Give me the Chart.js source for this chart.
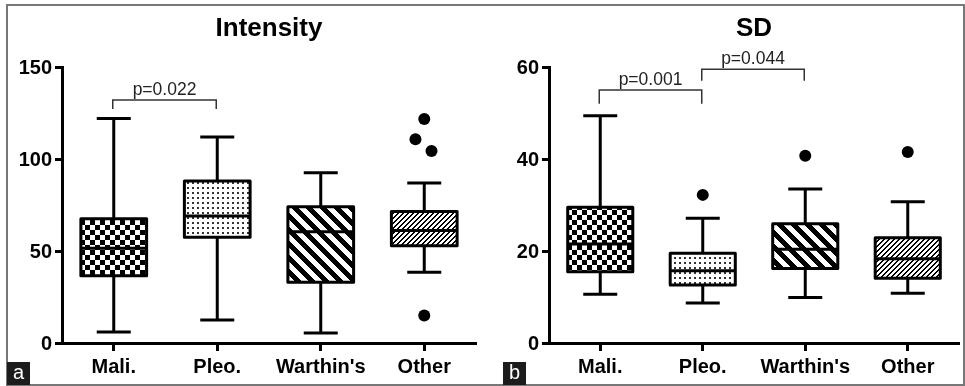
<!DOCTYPE html>
<html><head><meta charset="utf-8">
<script src="https://cdn.jsdelivr.net/npm/chart.js@4.4.0/dist/chart.umd.min.js"></script>
<style>
html,body{margin:0;padding:0;background:#fff;}
#wrap{position:relative;width:965px;height:386px;overflow:hidden;background:#fff;}
#frame{position:absolute;left:6px;top:4px;width:959px;height:382px;box-sizing:border-box;border:2px solid #777;}
canvas{position:absolute;top:0;}
.tag{position:absolute;top:362px;width:23px;height:23px;background:#1c1c1c;color:#fff;font:20px "Liberation Sans",Arial,sans-serif;line-height:21px;text-align:center;}
</style></head>
<body><div id="wrap"><div id="frame"></div>
<canvas id="c1" width="482" height="386" style="left:0px"></canvas>
<canvas id="c2" width="483" height="386" style="left:482px"></canvas>
<div class="tag" style="left:7px">a</div><div class="tag" style="left:503px">b</div>
</div>
<script>
// ---------- data ----------
const categories = ["Mali.", "Pleo.", "Warthin's", "Other"];

// Panel a: Intensity
const intMin = [6, 12.5, 5.5, 38.5];
const intQ1  = [36.5, 57.5, 33, 52.8];
const intMed = [51.5, 69, 60.5, 61.2];
const intQ3  = [67.5, 88, 74, 71.5];
const intMax = [122, 112, 92.5, 87];
const intOutX = [3, 2.915, 3.07, 3];
const intOutY = [121.7, 110.7, 104.3, 15];
const intTicks = [0, 50, 100, 150];
const intBrFrom = [0], intBrTo = [1], intBrTop = [132], intBrLeg = [127.2], intBrText = ["p=0.022"];

// Panel b: SD
const sdMin = [10.6, 8.7, 9.9, 10.8];
const sdQ1  = [15.5, 12.6, 16.2, 14.1];
const sdMed = [21.5, 15.7, 20.4, 18.3];
const sdQ3  = [29.5, 19.5, 25.9, 22.9];
const sdMax = [49.4, 27.1, 33.5, 30.7];
const sdOutX = [1, 2, 3];
const sdOutY = [32.2, 40.7, 41.5];
const sdTicks = [0, 20, 40, 60];
const sdBrFrom = [0, 1], sdBrTo = [1, 2], sdBrTop = [55, 59.5], sdBrLeg = [52, 57], sdBrText = ["p=0.001", "p=0.044"];

// ---------- styling helpers ----------
const FONT = '"Liberation Sans", Arial, Helvetica, sans-serif';
Chart.defaults.font.family = FONT;
Chart.defaults.color = '#000';

function makePatterns(ctx){
  function cv(w,h){const c=document.createElement('canvas');c.width=w;c.height=h;return c;}
  const c1=cv(10,10), g1=c1.getContext('2d');
  g1.fillStyle='#fff';g1.fillRect(0,0,10,10);g1.fillStyle='#000';g1.fillRect(0,0,5,5);g1.fillRect(5,5,5,5);
  const c2=cv(5,5), g2=c2.getContext('2d');
  g2.fillStyle='#fff';g2.fillRect(0,0,5,5);g2.fillStyle='#333';g2.fillRect(2,2,2,2);
  function diag(P,w,back){
    const c=cv(P,P), g=c.getContext('2d'); const img=g.createImageData(P,P);
    for(let y=0;y<P;y++)for(let x=0;x<P;x++){
      const v = back ? (((x-y)%P)+P)%P : (x+y)%P;
      const k=(y*P+x)*4, col=(v<w)?0:255;
      img.data[k]=col;img.data[k+1]=col;img.data[k+2]=col;img.data[k+3]=255;
    }
    g.putImageData(img,0,0); return c;
  }
  const c3=diag(14,7,true);
  const c4=diag(5,2,false);
  return [c1,c2,c3,c4].map(c=>ctx.createPattern(c,'repeat'));
}

function boxPlugin(st){
  return {
    id:'boxdraw',
    afterDatasetsDraw(chart){
      const ctx=chart.ctx, xs=chart.scales.x, ys=chart.scales.y;
      const meta=chart.getDatasetMeta(0);
      ctx.save();
      ctx.strokeStyle='#000'; ctx.lineWidth=3; ctx.lineJoin='round'; ctx.lineCap='butt';
      const ln=(a,b,c,d)=>{ctx.beginPath();ctx.moveTo(a,b);ctx.lineTo(c,d);ctx.stroke();};
      meta.data.forEach((bar,i)=>{
        const p=bar.getProps(['x','width'],true);
        const cx=p.x, hw=p.width/2, cap=17;
        const yq1=ys.getPixelForValue(st.q1[i]), yq3=ys.getPixelForValue(st.q3[i]);
        const ymed=ys.getPixelForValue(st.med[i]), ymin=ys.getPixelForValue(st.min[i]), ymax=ys.getPixelForValue(st.max[i]);
        ln(cx,yq3,cx,ymax); ln(cx-cap,ymax,cx+cap,ymax);
        ln(cx,yq1,cx,ymin); ln(cx-cap,ymin,cx+cap,ymin);
        ln(cx-hw,ymed,cx+hw,ymed);
        ctx.strokeRect(cx-hw,yq3,p.width,yq1-yq3);
      });
      ctx.lineWidth=1.5; ctx.strokeStyle='#333'; ctx.fillStyle='#222'; ctx.lineJoin='miter';
      ctx.font='17.5px '+FONT; ctx.textAlign='center'; ctx.textBaseline='alphabetic';
      st.brFrom.forEach((f,i)=>{
        const x1=xs.getPixelForValue(f)-1, x2=xs.getPixelForValue(st.brTo[i])-1;
        const yt=ys.getPixelForValue(st.brTop[i]), yb=ys.getPixelForValue(st.brLeg[i]);
        ctx.beginPath();ctx.moveTo(x1,yb);ctx.lineTo(x1,yt);ctx.lineTo(x2,yt);ctx.lineTo(x2,yb);ctx.stroke();
        ctx.fillText(st.brText[i],(x1+x2)/2,yt-5.5);
      });
      ctx.restore();
    }
  };
}

function build(id, title, st, ticks, yAxisW, padRight){
  const el=document.getElementById(id), ctx=el.getContext('2d');
  const pats=makePatterns(ctx);
  return new Chart(ctx,{
    type:'bar',
    data:{
      labels:categories,
      datasets:[
        {data:st.q1.map((v,i)=>[v,st.q3[i]]), backgroundColor:pats, borderWidth:0, grouped:false,
         barPercentage:0.635, categoryPercentage:1, xAxisID:'x', yAxisID:'y'},
        {type:'scatter', data:st.outX.map((x,i)=>({x:x,y:st.outY[i]})), xAxisID:'xo', yAxisID:'y',
         pointRadius:6, pointBackgroundColor:'#000', pointBorderWidth:0, pointHoverRadius:6}
      ]
    },
    options:{
      responsive:false, animation:false, devicePixelRatio:1,
      layout:{padding:{left:0,right:padRight,top:0,bottom:0}},
      plugins:{
        legend:{display:false}, tooltip:{enabled:false},
        title:{display:true,text:title,color:'#000',fullSize:false,
          font:{size:26,weight:'bold',lineHeight:1,family:FONT},padding:{top:16,bottom:25}}
      },
      scales:{
        x:{type:'category', offset:true,
          grid:{offset:false,drawOnChartArea:false,drawTicks:true,tickLength:8,tickWidth:3,tickColor:'#000'},
          border:{display:true,width:3,color:'#000'},
          ticks:{color:'#000',font:{size:20,weight:'bold',family:FONT},padding:4,maxRotation:0,autoSkip:false},
          afterFit:(s)=>{s.height=43;}
        },
        xo:{type:'linear',min:-0.5,max:3.5,offset:false,display:false,grid:{offset:false}},
        y:{type:'linear',min:ticks[0],max:ticks[ticks.length-1],
          afterBuildTicks:(s)=>{s.ticks=ticks.map(v=>({value:v}));},
          grid:{drawOnChartArea:false,drawTicks:true,tickLength:7,tickWidth:3,tickColor:'#000'},
          border:{display:true,width:3,color:'#000'},
          ticks:{color:'#000',font:{size:20,weight:'bold',family:FONT},padding:3,labelOffset:1},
          afterFit:(s)=>{s.width=yAxisW;}
        }
      }
    },
    plugins:[boxPlugin(st)]
  });
}

build('c1','Intensity',{min:intMin,q1:intQ1,med:intMed,q3:intQ3,max:intMax,outX:intOutX,outY:intOutY,
  brFrom:intBrFrom,brTo:intBrTo,brTop:intBrTop,brLeg:intBrLeg,brText:intBrText}, intTicks, 62, 4);
build('c2','SD',{min:sdMin,q1:sdQ1,med:sdMed,q3:sdQ3,max:sdMax,outX:sdOutX,outY:sdOutY,
  brFrom:sdBrFrom,brTo:sdBrTo,brTop:sdBrTop,brLeg:sdBrLeg,brText:sdBrText}, sdTicks, 67, 2);
</script>
</body></html>
